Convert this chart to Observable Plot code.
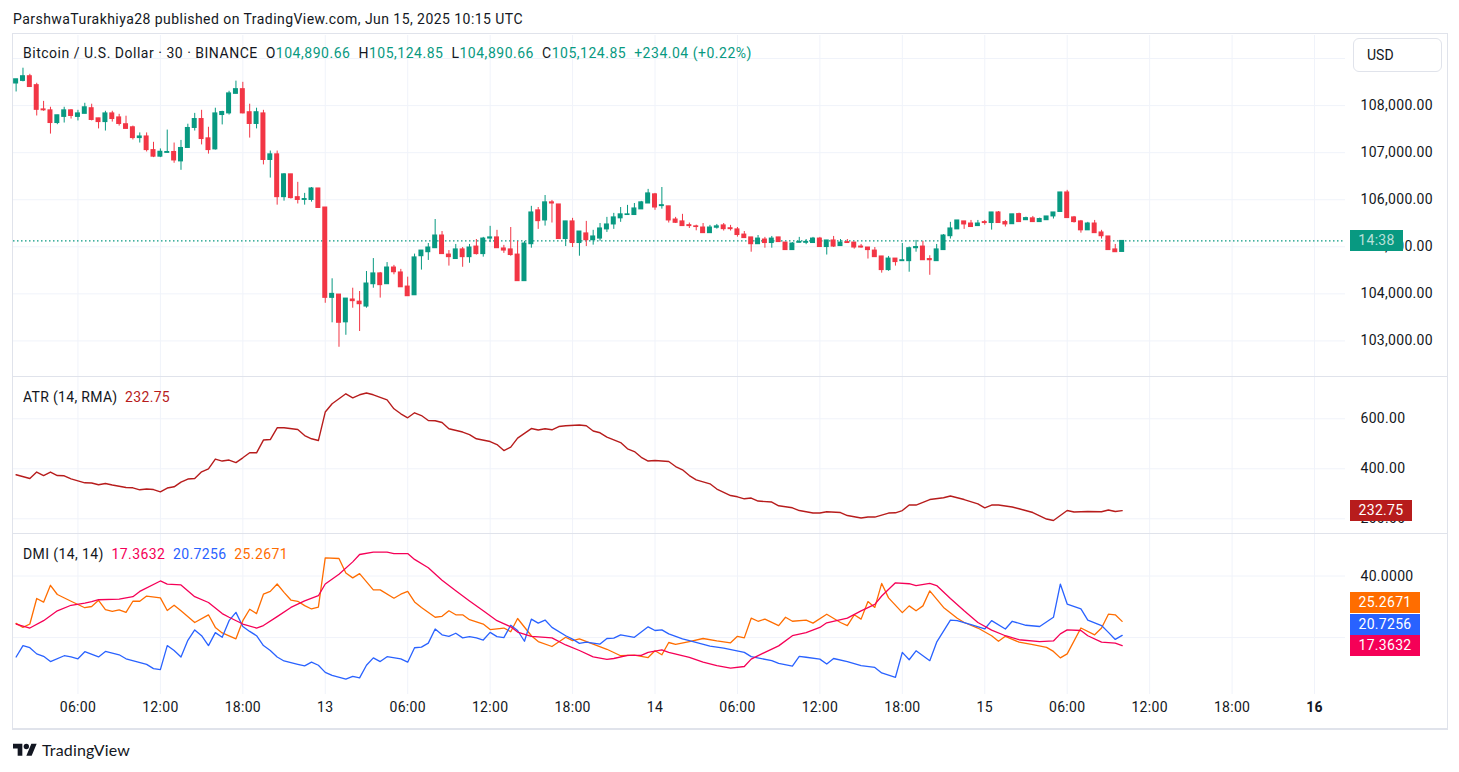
<!DOCTYPE html>
<html><head><meta charset="utf-8">
<script src="https://cdn.jsdelivr.net/npm/d3@7"></script>
<script src="https://cdn.jsdelivr.net/npm/@observablehq/plot@0.6"></script>
<style>
html,body{margin:0;padding:0;background:#fff;}
#root{position:relative;width:1459px;height:772px;overflow:hidden;font-family:Roboto,"Liberation Sans",sans-serif;color:#131722;}
#root svg text{letter-spacing:0.3px;}
.a{position:absolute;white-space:nowrap;}
.g{color:#089981}
.box{position:absolute;height:21px;line-height:21px;color:#fff;font-size:14px;text-align:center;letter-spacing:0.3px;}
</style></head><body><div id="root"></div>
<script>
// ---------------- DATA ----------------
const title = "ParshwaTurakhiya28 published on TradingView.com, Jun 15, 2025 10:15 UTC";
const symbolName = "Bitcoin / U.S. Dollar · 30 · BINANCE";
const changeText = "+234.04 (+0.22%)";
const countdown = "14:38";
const firstBarUTC = [2025, 5, 12, 1, 30]; // 30-minute bars
const open = [108470,108525,108625,108435,107920,107900,107630,107760,107900,107760,
107825,107945,107730,107650,107835,107750,107605,107540,107310,107345,
107055,106915,106995,107015,106815,107100,107525,107715,107305,107070,
107800,107835,108250,108350,107860,107610,107835,106845,106965,106055,
106540,106055,105995,105995,106240,105835,103915,103985,103395,103880,
103835,103730,104205,104435,104205,104560,104455,104155,103970,104800,
104885,104970,105240,104835,104740,104945,104780,105005,104845,105175,
105200,104965,104945,104835,104270,105055,105775,105560,105945,105900,
105165,105540,105080,105285,105140,105175,105370,105475,105605,105675,
105675,105795,105920,106115,105865,105860,105580,105540,105460,105435,
105410,105290,105405,105455,105395,105370,105260,105200,105055,105155,
105080,105200,105090,104930,105085,105085,105080,105175,104995,105135,
105015,105100,105090,105005,104985,104920,104795,104505,104750,104695,
104695,104970,105005,104740,104695,104930,105225,105370,105540,105495,
105440,105525,105505,105730,105525,105480,105695,105565,105605,105525,
105565,105645,105740,106155,105625,105540,105350,105495,105305,105220,
104945,104890.66];
const high = [108560,108795,108665,108475,108090,107965,107795,107965,107915,107900,
108050,108030,107730,107880,107880,107815,107775,107565,107420,107420,
107220,107080,107480,107205,107260,107605,107835,107900,107540,107945,
107880,108305,108520,108495,108030,107945,107900,107035,107035,106555,
106540,106370,106135,106260,106240,105835,104320,103985,103900,104120,
104050,104475,104750,104455,104665,104605,104520,104355,104845,104920,
105070,105580,105325,104920,105050,104985,105050,105155,105200,105435,
105350,105030,105410,105115,105115,105860,105835,106090,105985,105900,
105540,105605,105325,105540,105350,105495,105625,105710,105835,105880,
105920,105965,106220,106135,106260,105860,105625,105690,105505,105460,
105495,105455,105475,105495,105455,105410,105325,105200,105240,105200,
105220,105200,105090,105090,105200,105155,105200,105200,105135,105220,
105155,105155,105090,105050,104985,104985,104795,104795,104750,105070,
104995,105135,105115,104810,105050,105260,105520,105560,105540,105560,
105560,105560,105730,105750,105560,105690,105715,105630,105645,105610,
105645,105730,106155,106200,105645,105560,105520,105560,105350,105220,
105050,105124.85];
const low = [108290,108505,108395,107780,107880,107395,107595,107630,107715,107675,
107825,107675,107505,107460,107650,107565,107505,107270,107205,107015,
106895,106895,106995,106775,106625,107100,107460,107165,106970,107055,
107590,107800,108250,107825,107310,107505,106740,106460,105885,105970,
106015,105910,105885,105950,105825,103800,103385,102865,103120,103695,
103200,103695,104120,103910,104205,104405,104140,103950,103970,104505,
104710,104970,104845,104590,104740,104565,104650,104825,104780,105090,
104970,104860,104800,104270,104270,104970,105370,105440,105505,105165,
105005,104985,104800,105005,105035,105120,105305,105370,105520,105675,
105675,105795,105920,105775,105800,105505,105495,105440,105390,105340,
105290,105290,105375,105335,105335,105205,105185,104885,105055,104970,
104970,105100,104930,104930,105085,105045,105080,104995,104825,104985,
105015,105080,104950,104970,104740,104780,104440,104480,104590,104695,
104460,104885,104715,104395,104695,104930,105165,105370,105370,105420,
105440,105460,105355,105505,105420,105480,105525,105565,105525,105525,
105565,105590,105740,105610,105505,105290,105350,105290,105165,104930,
104885,104890.66];
const close = [108560,108625,108395,107910,107900,107630,107795,107900,107780,107835,
107965,107695,107650,107835,107715,107610,107505,107310,107345,107055,
106915,107020,107015,106835,107100,107525,107715,107290,107055,107835,
107865,108260,108350,107835,107610,107860,106845,106965,106055,106540,
106035,105995,106015,106240,105825,103915,104000,103385,103900,103845,
103780,104220,104435,104185,104560,104460,104140,103950,104775,104920,
104985,105240,104845,104780,104945,104780,104985,104845,105175,105200,
104970,104920,104825,104270,105070,105730,105545,105945,105920,105165,
105540,105080,105325,105140,105220,105390,105475,105625,105690,105690,
105815,105945,106135,105835,105885,105560,105510,105440,105440,105420,
105290,105410,105435,105375,105375,105250,105185,105055,105175,105080,
105175,105100,104930,105070,105105,105105,105175,104995,105135,105005,
105090,105080,104985,104985,104930,104780,104505,104750,104675,104715,
104970,104995,104715,104715,104945,105240,105390,105560,105475,105420,
105495,105505,105730,105505,105475,105690,105525,105610,105525,105590,
105645,105730,106155,105610,105525,105350,105495,105290,105225,104930,
104885,105124.85];

// ATR (14, RMA): [bar index, value]
const atr = [[0,376],[2,361],[3,387],[4,373],[5,387],[6,373],[7,372],[8,360],[10,344],[11,343],[12,336],[13,341],[14,335],[16,325],[17,324],[18,316],[19,319],[20,317],[21,308],[22,323],[23,328],[24,347],[25,359],[26,361],[27,388],[28,400],[29,439],[30,431],[31,435],[32,425],[33,444],[34,464],[35,464],[36,515],[37,517],[38,564],[39,564],[41,557],[42,533],[43,520],[44,513],[45,627],[46,660],[48,700],[49,684],[50,696],[51,703],[52,696],[54,676],[55,640],[56,620],[57,604],[58,624],[59,613],[60,593],[61,592],[62,585],[63,560],[65,547],[66,537],[67,520],[69,509],[70,497],[71,473],[72,487],[73,523],[75,561],[76,555],[77,560],[78,556],[79,569],[80,572],[82,575],[83,572],[84,551],[85,544],[86,527],[88,505],[89,480],[90,469],[91,446],[92,431],[93,433],[95,429],[96,409],[97,396],[98,373],[99,356],[101,340],[102,319],[104,293],[105,288],[106,280],[107,283],[108,271],[110,267],[111,252],[113,244],[114,233],[116,223],[117,223],[118,228],[120,225],[121,213],[123,203],[124,207],[125,207],[127,223],[128,224],[129,233],[130,255],[131,255],[133,277],[135,284],[136,291],[138,277],[140,260],[141,244],[142,255],[143,255],[145,247],[146,240],[148,225],[149,212],[150,199],[151,193],[153,233],[154,227],[156,229],[158,228],[159,235],[160,229],[161,232.75]];

// DMI (14, 14): ADX, +DI, -DI as [bar index, value]
const adx = [[0,24.4],[2,23.1],[4,25.5],[6,28.7],[8,30.5],[10,31.2],[11,31.7],[12,32.3],[15,32.5],[17,33.3],[18,35.0],[21,38.4],[22,37.4],[24,37.1],[26,33.3],[28,31.4],[30,27.8],[31,26.6],[33,24.4],[35,23.1],[36,23.9],[38,26.8],[40,29.8],[42,31.9],[44,33.6],[45,37.4],[47,40.6],[49,44.6],[50,47.0],[52,47.8],[54,47.8],[55,47.3],[57,47.3],[58,45.4],[60,42.7],[62,38.6],[64,35.2],[66,31.9],[68,28.7],[70,25.5],[72,23.5],[73,21.8],[75,20.4],[78,19.9],[80,17.6],[82,15.8],[84,13.7],[86,12.9],[87,13.2],[89,14.2],[91,14.2],[92,15.2],[94,16.0],[95,15.2],[98,13.6],[100,12.0],[102,10.9],[104,10.1],[106,10.6],[107,13.0],[109,15.2],[111,17.3],[113,20.6],[115,21.6],[117,23.3],[118,24.8],[121,26.3],[123,28.7],[125,30.8],[126,33.5],[128,37.8],[130,37.5],[131,36.9],[133,37.6],[134,36.9],[136,32.7],[138,28.7],[140,24.9],[142,22.4],[144,20.6],[146,19.3],[149,18.7],[151,18.9],[152,21.2],[153,22.5],[155,22.3],[156,20.6],[158,18.5],[160,18.2],[161,17.3632]];
const plusDI = [[0,13.7],[1,17.4],[2,16.7],[3,14.7],[4,13.9],[5,12.2],[7,14.1],[8,13.7],[9,13.1],[10,15.4],[12,13.7],[13,15.5],[15,14.4],[16,13.1],[19,11.3],[20,9.9],[21,9.6],[22,17.4],[23,15.8],[24,13.7],[25,19.1],[26,22.5],[27,20.6],[28,17.4],[29,21.6],[30,20.1],[31,25.5],[32,28.2],[33,23.6],[34,22.0],[35,20.6],[36,17.4],[37,15.8],[38,13.7],[39,12.4],[41,11.3],[42,10.8],[43,12.0],[44,11.0],[45,8.7],[46,7.7],[48,6.5],[49,7.4],[50,6.9],[51,11.0],[52,13.4],[53,12.2],[54,13.8],[56,13.1],[57,12.0],[58,16.7],[59,16.9],[60,18.2],[61,22.8],[62,20.9],[63,20.4],[64,21.4],[65,19.9],[66,20.3],[67,19.9],[68,19.2],[69,21.7],[70,20.3],[71,20.0],[72,24.0],[73,22.3],[74,18.8],[75,26.0],[76,24.7],[77,25.7],[78,23.3],[80,20.6],[81,19.5],[82,18.1],[83,18.5],[85,17.9],[86,19.7],[87,19.8],[88,20.9],[90,20.1],[92,23.5],[93,22.3],[94,22.5],[95,21.2],[97,19.6],[98,19.0],[101,17.2],[103,16.6],[106,15.2],[107,13.8],[110,12.5],[111,11.6],[113,10.7],[114,13.9],[115,13.6],[117,13.0],[118,11.4],[119,13.2],[121,12.2],[123,10.9],[125,10.3],[126,8.5],[128,7.1],[129,15.2],[130,12.8],[131,15.7],[133,12.5],[134,18.5],[136,25.7],[137,25.5],[139,24.2],[141,22.8],[142,25.5],[144,22.8],[145,25.3],[147,24.0],[149,23.6],[151,26.6],[152,37.4],[153,30.9],[155,29.3],[156,25.7],[158,23.9],[159,21.7],[160,19.4],[161,20.7256]];
const minusDI = [[0,24.6],[1,23.3],[2,24.4],[3,32.7],[4,31.5],[5,37.0],[6,34.0],[8,31.8],[10,29.7],[11,30.1],[12,32.1],[13,29.1],[14,28.5],[15,29.0],[16,28.2],[17,31.8],[18,31.8],[19,33.5],[21,32.9],[22,28.8],[23,30.5],[24,28.7],[26,24.9],[28,27.4],[29,23.3],[30,21.5],[32,19.6],[33,25.5],[34,29.2],[35,27.8],[36,34.1],[37,35.0],[38,37.4],[39,34.7],[40,32.2],[41,31.8],[42,30.4],[43,29.3],[44,29.9],[45,45.9],[47,45.7],[48,41.0],[49,39.4],[50,40.8],[52,35.5],[53,35.5],[55,32.8],[56,34.1],[57,35.0],[58,31.6],[59,29.8],[61,26.6],[62,26.9],[63,28.7],[64,27.4],[65,27.4],[66,25.8],[68,24.4],[69,22.6],[71,23.1],[72,21.9],[73,26.2],[75,20.6],[76,18.7],[78,17.1],[80,20.1],[81,19.0],[82,19.6],[84,17.9],[86,16.2],[88,14.1],[90,14.3],[92,13.5],[93,15.7],[94,14.4],[95,18.4],[96,17.8],[98,18.7],[100,19.7],[102,18.9],[104,18.3],[105,20.4],[106,19.9],[107,26.3],[108,25.3],[109,26.0],[111,23.9],[112,26.6],[113,25.3],[115,25.7],[116,24.7],[118,27.6],[120,24.9],[121,23.9],[122,27.4],[123,26.0],[124,31.7],[125,29.8],[126,37.6],[127,32.9],[129,28.1],[130,30.3],[131,28.7],[132,30.3],[133,35.2],[135,29.8],[137,26.3],[138,24.9],[140,23.1],[142,20.6],[143,18.8],[144,20.4],[146,18.5],[148,17.7],[150,16.8],[151,15.5],[152,13.4],[153,14.7],[155,23.1],[157,20.9],[158,23.1],[159,27.6],[160,27.4],[161,25.2671]];

const priceTicks = [103000, 104000, 105000, 106000, 107000, 108000];
const priceGridExtra = [109000];
const atrTicks = [200, 400, 600];
const dmiGrid = [20, 40];
const dmiTickLabels = [40];
const xTickHours = [6,12,18,24,30,36,42,48,54,60,66,72,78,84,90,96]; // hours after Jun 12 00:00 UTC
const xTickLabels = ["06:00","12:00","18:00","13","06:00","12:00","18:00","14","06:00","12:00","18:00","15","06:00","12:00","18:00","16"];

// ---------------- STYLE ----------------
const GREEN = "#089981", RED = "#f23645", GRID = "#f0f3fa", TXT = "#131722", SEP = "#e0e3eb";
const ATR_C = "#b71c1c", ADX_C = "#f50057", PDI_C = "#2962ff", MDI_C = "#ff6d00";
const W = 1459, PL = 13, PR = 1345;
const DAY = 86400000, T0 = Date.UTC(2025, 5, 12);
const xDomain = [new Date(T0 + 18 / 329.75 * DAY), new Date(T0 + 1350 / 329.75 * DAY)];
const BAR = 30 * 60 * 1000;
const TB = Date.UTC(...firstBarUTC);
const tOf = i => new Date(TB + i * BAR);

const candles = open.map((o, i) => ({t: tOf(i), o, h: high[i], l: low[i], c: close[i]}));
const col = d => d.c >= d.o ? GREEN : RED;
const toPts = arr => arr.map(([i, v]) => ({t: tOf(i), v}));
const xTicks = xTickHours.map((h, k) => ({t: new Date(T0 + h * 3600000), label: xTickLabels[k], bold: h === 96}));
const last = candles[candles.length - 1];

const root = document.getElementById("root");
const fmt2 = d3.format(",.2f");
const baseStyle = {fontFamily: "Roboto, 'Liberation Sans', sans-serif", fontSize: "14px", background: "transparent", overflow: "visible"};
const xOpt = {type: "utc", domain: xDomain, axis: null};
const axisText = (ticks, fmt) => Plot.text(ticks, {y: d => d, text: fmt, frameAnchor: "right", dx: 15, textAnchor: "start", fill: TXT, fontSize: 14});

function place(svg, top) {
  svg.style.position = "absolute"; svg.style.left = "0px"; svg.style.top = top + "px";
  root.appendChild(svg);
  return svg;
}

// ---------------- PRICE PANE ----------------
const pricePlot = place(Plot.plot({
  width: W, height: 341, marginLeft: PL, marginRight: W - PR, marginTop: 0, marginBottom: 0,
  x: xOpt, y: {domain: [102244, 109490], axis: null}, style: baseStyle,
  marks: [
    Plot.ruleY(priceTicks.concat(priceGridExtra), {stroke: GRID}),
    Plot.ruleX(xTicks, {x: "t", stroke: GRID}),
    Plot.ruleY([last.c], {stroke: GREEN, strokeDasharray: "1.5,2.5", strokeWidth: 1.2}),
    Plot.ruleX(candles, {x: "t", y1: "l", y2: "h", stroke: col, strokeWidth: 1}),
    Plot.rect(candles, {x1: "t", x2: "t", y1: "o", y2: "c", insetLeft: -2.5, insetRight: -2.5, insetTop: -0.5, insetBottom: -0.5, fill: col}),
    axisText(priceTicks, fmt2)
  ]
}), 35);

// ---------------- ATR PANE ----------------
const atrPlot = place(Plot.plot({
  width: W, height: 156, marginLeft: PL, marginRight: W - PR, marginTop: 0, marginBottom: 0,
  x: xOpt, y: {domain: [141.2, 765.2], axis: null}, style: baseStyle,
  marks: [
    Plot.ruleY(atrTicks, {stroke: GRID}),
    Plot.ruleX(xTicks, {x: "t", stroke: GRID}),
    Plot.line(toPts(atr), {x: "t", y: "v", stroke: ATR_C, strokeWidth: 1.4}),
    axisText(atrTicks, d3.format(".2f"))
  ]
}), 377);

// ---------------- DMI PANE ----------------
const dmiPlot = place(Plot.plot({
  width: W, height: 194, marginLeft: PL, marginRight: W - PR, marginTop: 0, marginBottom: 34,
  x: xOpt, y: {domain: [1.5, 53.5], axis: null}, style: baseStyle,
  marks: [
    Plot.ruleY(dmiGrid, {stroke: GRID}),
    Plot.ruleX(xTicks, {x: "t", stroke: GRID}),
    Plot.line(toPts(minusDI), {x: "t", y: "v", stroke: MDI_C, strokeWidth: 1.3}),
    Plot.line(toPts(plusDI), {x: "t", y: "v", stroke: PDI_C, strokeWidth: 1.3}),
    Plot.line(toPts(adx), {x: "t", y: "v", stroke: ADX_C, strokeWidth: 1.3}),
    axisText(dmiTickLabels, d3.format(".4f")),
    Plot.text(xTicks.filter(d => !d.bold), {x: "t", text: "label", frameAnchor: "bottom", dy: 17.5, fill: TXT, fontSize: 14}),
    Plot.text(xTicks.filter(d => d.bold), {x: "t", text: "label", frameAnchor: "bottom", dy: 17.5, fill: TXT, fontSize: 14, fontWeight: "bold"})
  ]
}), 534);

// ---------------- HTML OVERLAYS ----------------
function div(cls, css, html) {
  const e = document.createElement("div");
  e.className = cls; Object.assign(e.style, css); e.innerHTML = html;
  root.appendChild(e); return e;
}
function fit(el, target) {
  const w = el.getBoundingClientRect().width;
  const n = el.textContent.length;
  el.style.letterSpacing = ((target - w) / n).toFixed(3) + "px";
}
// frame and separators
div("a", {left: "12px", top: "33px", width: "1434px", height: "694px", border: "1px solid " + SEP, borderBottomWidth: "2px", pointerEvents: "none"}, "");
div("a", {left: "13px", top: "376px", width: "1434px", height: "1px", background: SEP}, "");
div("a", {left: "13px", top: "533px", width: "1434px", height: "1px", background: SEP}, "");

const hdr = div("a", {left: "13px", top: "10px", fontSize: "14px", lineHeight: "18px"}, title);
fit(hdr, 510);
const g = v => `<span class="g">${v}</span>`;
const leg = div("a", {left: "23px", top: "44px", fontSize: "14px", lineHeight: "18px"},
  `${symbolName}&nbsp; O${g(fmt2(last.o))}&nbsp; H${g(fmt2(last.h))}&nbsp; L${g(fmt2(last.l))}&nbsp; C${g(fmt2(last.c))}&nbsp; ${g(changeText)}`);
fit(leg, 729);
div("a", {left: "1353px", top: "38px", width: "87px", height: "32px", border: "1px solid " + SEP, borderRadius: "6px", fontSize: "14px", lineHeight: "32px"}, `<span style="margin-left:13px">USD</span>`);

const atrLast = atr[atr.length - 1][1];
const atrLeg = div("a", {left: "23px", top: "388px", fontSize: "14px", lineHeight: "18px"},
  `ATR (14, RMA)&nbsp; <span style="color:${ATR_C}">${d3.format(".2f")(atrLast)}</span>`);
fit(atrLeg, 147);
const f4 = d3.format(".4f");
const vAdx = adx[adx.length - 1][1], vP = plusDI[plusDI.length - 1][1], vM = minusDI[minusDI.length - 1][1];
const dmiLeg = div("a", {left: "23px", top: "545px", fontSize: "14px", lineHeight: "18px"},
  `DMI (14, 14)&nbsp; <span style="color:${ADX_C}">${f4(vAdx)}</span>&nbsp; <span style="color:${PDI_C}">${f4(vP)}</span>&nbsp; <span style="color:${MDI_C}">${f4(vM)}</span>`);
fit(dmiLeg, 265);

// last-value boxes positioned through the plots' y scales
const yP = pricePlot.scale("y"), yA = atrPlot.scale("y"), yD = dmiPlot.scale("y");
const cP = 35 + yP.apply(last.c);
div("box", {left: "1350px", top: (cP - 10.5) + "px", width: "53px", background: GREEN, color: "rgba(255,255,255,0.72)"}, countdown);
const cA = 377 + yA.apply(atrLast);
div("box", {left: "1350px", top: (cA - 10) + "px", width: "62px", background: ATR_C}, d3.format(".2f")(atrLast));
const cR = 534 + yD.apply(vAdx) + 0.5;
div("box", {left: "1350px", top: (cR - 10.5) + "px", width: "70px", background: ADX_C}, f4(vAdx));
div("box", {left: "1350px", top: (cR - 32) + "px", width: "70px", background: PDI_C}, f4(vP));
div("box", {left: "1350px", top: (cR - 53.5) + "px", width: "70px", background: MDI_C}, f4(vM));

// footer
div("a", {left: "13px", top: "741px", width: "24px", height: "19px"},
  `<svg width="24" height="19" viewBox="0 0 36 28"><path d="M14 22H7V11H0V4h14v18zM28 22h-8l7.5-18h8L28 22z" fill="${TXT}"/><circle cx="20" cy="8" r="4" fill="${TXT}"/></svg>`);
const tv = div("a", {left: "42px", top: "740px", fontSize: "16px", lineHeight: "20px", fontFamily: "Lato, Roboto, sans-serif"}, "TradingView");
fit(tv, 88);
</script></body></html>
